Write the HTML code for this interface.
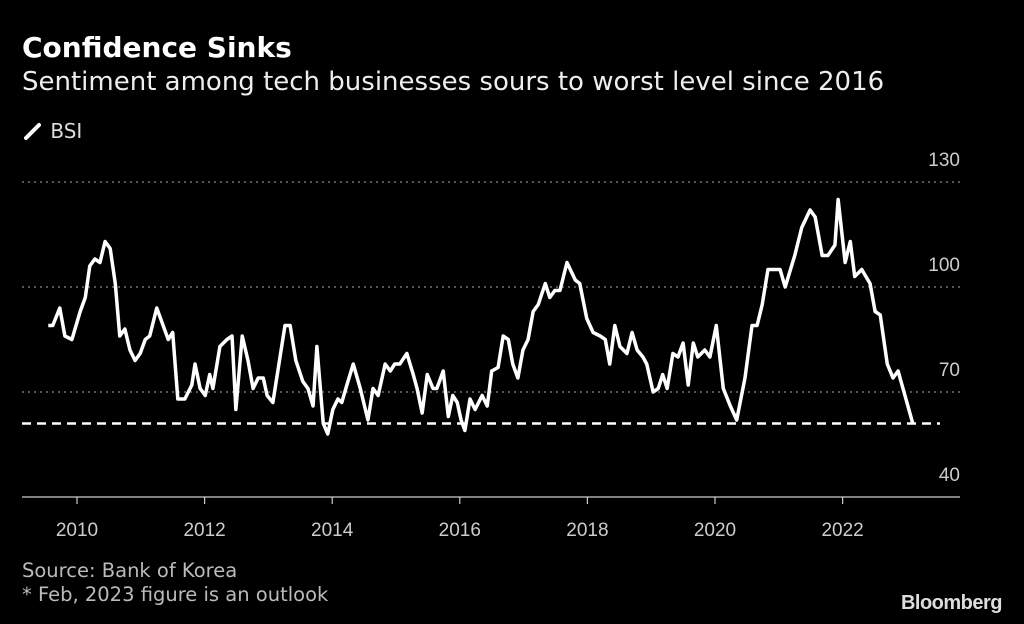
<!DOCTYPE html>
<html><head><meta charset="utf-8"><style>
body{margin:0;background:#000;width:1024px;height:624px;overflow:hidden;font-family:"DejaVu Sans",sans-serif;color:#fff}
.t{position:absolute;white-space:nowrap}
</style></head><body>
<div class="t" style="left:22px;top:31px;font-size:28px;font-weight:bold">Confidence Sinks</div>
<div class="t" style="left:22px;top:67px;font-size:26px;color:#eee">Sentiment among tech businesses sours to worst level since 2016</div>
<div class="t" style="left:22px;top:119px;font-size:20px;color:#ddd"><svg width="22" height="20" style="vertical-align:-3px"><line x1="4" y1="17" x2="17" y2="4" stroke="#fff" stroke-width="4" stroke-linecap="round"/></svg> BSI</div>
<svg id="chart" width="1024" height="624" style="position:absolute;left:0;top:0"></svg>
<div class="t" style="left:22px;top:559px;font-size:19.5px;color:#bbb">Source: Bank of Korea</div>
<div class="t" style="left:22px;top:583px;font-size:19.5px;color:#bbb">* Feb, 2023 figure is an outlook</div>
<div class="t" style="right:22px;top:592px;font-family:'Liberation Sans',sans-serif;font-size:20px;font-weight:bold;letter-spacing:-0.5px;color:#ddd">Bloomberg</div>
<script>
const yTicks=[40,70,100,130];
const xTicks=[2010,2012,2014,2016,2018,2020,2022];
const refValue=61;
const dates=[2009.55,2009.62,2009.73,2009.81,2009.92,2010.05,2010.13,2010.20,2010.28,2010.36,2010.44,2010.52,2010.60,2010.67,2010.75,2010.83,2010.91,2010.99,2011.07,2011.14,2011.25,2011.35,2011.43,2011.50,2011.58,2011.69,2011.80,2011.85,2011.93,2012.01,2012.08,2012.13,2012.24,2012.35,2012.43,2012.49,2012.59,2012.68,2012.76,2012.84,2012.92,2012.98,2013.07,2013.26,2013.34,2013.43,2013.54,2013.62,2013.70,2013.76,2013.86,2013.93,2014.01,2014.09,2014.15,2014.23,2014.33,2014.44,2014.56,2014.64,2014.72,2014.83,2014.91,2014.98,2015.06,2015.17,2015.27,2015.33,2015.41,2015.49,2015.58,2015.64,2015.74,2015.82,2015.89,2015.96,2016.02,2016.08,2016.16,2016.24,2016.35,2016.43,2016.50,2016.60,2016.68,2016.76,2016.83,2016.91,2016.99,2017.07,2017.15,2017.23,2017.34,2017.41,2017.49,2017.57,2017.68,2017.81,2017.88,2017.99,2018.09,2018.20,2018.28,2018.35,2018.43,2018.51,2018.62,2018.70,2018.78,2018.87,2018.93,2019.03,2019.11,2019.18,2019.25,2019.34,2019.42,2019.50,2019.58,2019.66,2019.73,2019.84,2019.92,2020.02,2020.13,2020.24,2020.34,2020.47,2020.58,2020.66,2020.74,2020.83,2021.02,2021.10,2021.25,2021.36,2021.49,2021.57,2021.68,2021.77,2021.88,2021.93,2022.04,2022.12,2022.19,2022.30,2022.43,2022.51,2022.59,2022.70,2022.79,2022.87,2023.10];
const bsi=[89,89,94,86,85,93,97,106,108,107,113,111,101,86,88,82,79,81,85,86,94,89,85,87,68,68,72,78,71,69,75,71,83,85,86,65,86,79,71,74,74,69,67,89,89,79,73,71,66,83,61,58,65,68,67,72,78,71,62,71,69,78,76,78,78,81,75,71,64,75,71,71,76,63,69,67,62,59,68,65,69,66,76,77,86,85,78,74,82,85,93,95,101,97,99,99,107,102,101,91,87,86,85,78,89,83,81,87,82,80,78,70,71,75,71,81,80,84,72,84,80,82,80,89,71,66,62,74,89,89,95,105,105,100,109,117,122,120,109,109,112,125,107,113,103,105,101,93,92,78,74,76,61];
const NS='http://www.w3.org/2000/svg',svg=document.getElementById('chart');
const X=y=>77+(y-2010)*63.8, Y=v=>497-(v-40)*3.5;
function mk(t,a){const e=document.createElementNS(NS,t);for(const k in a)e.setAttribute(k,a[k]);svg.appendChild(e);return e;}
yTicks.forEach(v=>{
 if(v>40){const g=mk('line',{x1:22,x2:960,y1:Y(v),y2:Y(v),stroke:'#888','stroke-width':1.2,'stroke-dasharray':'2,4'});
 
 }
 const t=mk('text',{x:960,y:Y(v)-16,'text-anchor':'end','font-size':19,fill:'#ccc','font-family':'Liberation Sans'});
 t.textContent=v;
 
 
});
const ax=mk('line',{x1:22,x2:960,y1:497,y2:497,stroke:'#ccc','stroke-width':1.2});


xTicks.forEach(y=>{
 const k=mk('line',{x1:X(y),x2:X(y),y1:497,y2:504,stroke:'#ccc','stroke-width':1.2});
 
 
 const t=mk('text',{x:X(y),y:536,'text-anchor':'middle','font-size':19,fill:'#ccc','font-family':'Liberation Sans'});
 t.textContent=y;
 
 
});
const r=mk('line',{x1:22,x2:940,y1:Y(refValue),y2:Y(refValue),stroke:'#fff','stroke-width':2.5,'stroke-dasharray':'9,6'});


const p=mk('polyline',{points:dates.map((d,i)=>X(d)+','+Y(bsi[i])).join(' '),fill:'none',stroke:'#fff','stroke-width':3.5,'stroke-linejoin':'round'});


</script>
</body></html>
